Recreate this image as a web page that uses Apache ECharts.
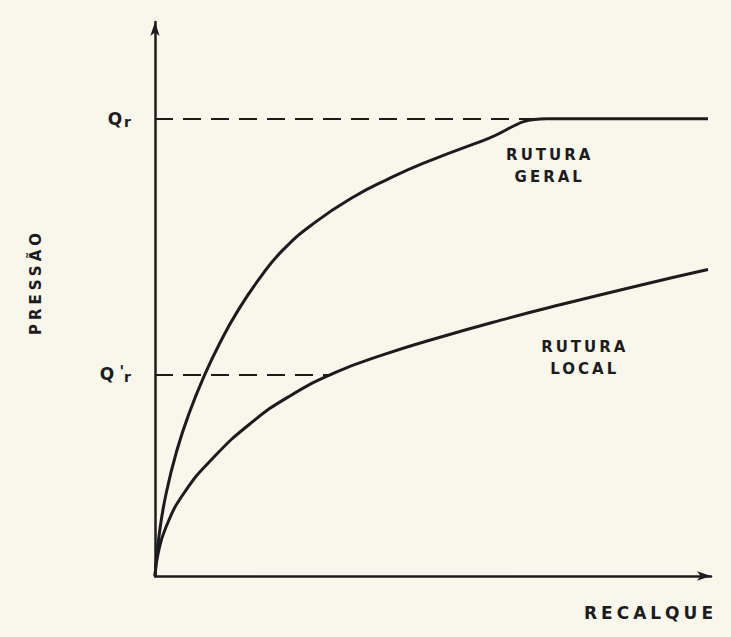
<!DOCTYPE html>
<html>
<head>
<meta charset="utf-8">
<script src="https://cdn.jsdelivr.net/npm/echarts@6/dist/echarts.min.js"></script>
<style>
  html, body { margin: 0; padding: 0; background: #f9f6ec; }
  #chart { width: 731px; height: 637px; }
</style>
</head>
<body>
<div id="chart"></div>
<script>
// curva de rutura geral (recalque, pressao)
var geralX = [0, 0.72, 1.98, 3.96, 6.29, 8.99, 11.69, 14.75, 18.71, 23.02, 28.78, 35.61, 41.91, 48.20, 58.99, 70.50, 99.46];
var geralY = [0, 7.22, 14.80, 22.74, 29.78, 36.43, 42.11, 47.63, 53.58, 58.86, 63.83, 68.36, 71.64, 74.48, 78.59, 82.53, 82.53];
// curva de rutura local
var localX = [0, 0.54, 1.98, 5.22, 10.61, 17.27, 23.92, 32.37, 41.37, 51.26, 62.05, 72.84, 86.33, 99.46];
var localY = [0, 3.97, 8.84, 14.98, 21.48, 27.62, 32.29, 36.70, 40.04, 43.10, 46.14, 48.95, 52.27, 55.31];
// pressoes de rutura
var qr = 82.53, qrLocal = 36.40;
var qrEndX = 70.50, qrLocalEndX = 31.8;

var ink = '#1c1c1c';
var font = 'DejaVu Sans';

function pairs(xs, ys) {
    return xs.map(function (x, i) { return [x, ys[i]]; });
}

var myChart = echarts.init(document.getElementById('chart'), null, { renderer: 'svg' });

var option = {
    backgroundColor: '#f9f6ec',
    animation: false,
    grid: { left: 155, right: 20, top: 22, bottom: 61 },
    xAxis: {
        type: 'value',
        min: 0,
        max: 100,
        name: 'RECALQUE',
        nameLocation: 'end',
        nameGap: 6,
        nameTextStyle: {
            color: ink, fontFamily: font, fontWeight: 'bold', fontSize: 17,
            align: 'right', verticalAlign: 'top', padding: [28, 0, 0, 0]
        },
        axisLine: {
            symbol: ['none', 'arrow'],
            symbolSize: [7, 14],
            lineStyle: { color: ink, width: 2.5 }
        },
        axisTick: { show: false },
        axisLabel: { show: false },
        splitLine: { show: false }
    },
    yAxis: {
        type: 'value',
        min: 0,
        max: 100,
        name: 'PRESSÃO',
        nameLocation: 'middle',
        nameRotate: 90,
        nameGap: 112,
        nameTextStyle: {
            color: ink, fontFamily: font, fontWeight: 'bold', fontSize: 15,
            padding: [0, 0, 0, 34]
        },
        axisLine: {
            symbol: ['none', 'arrow'],
            symbolSize: [7, 14],
            lineStyle: { color: ink, width: 2.5 }
        },
        axisTick: { show: false },
        splitLine: { show: false },
        axisLabel: {
            customValues: [qrLocal, qr],
            margin: 24,
            formatter: function (v) {
                return v === qr ? '{q|Q}{sub|r}' : '{q|Q}{ap|\'}{sub|r}';
            },
            rich: {
                q: { color: ink, fontFamily: font, fontWeight: 'bold', fontSize: 17, lineHeight: 20, verticalAlign: 'middle', padding: [0, 2, 0, 0] },
                sub: { color: ink, fontFamily: font, fontWeight: 'bold', fontSize: 14, lineHeight: 10, verticalAlign: 'bottom' },
                ap: { color: ink, fontFamily: font, fontWeight: 'bold', fontSize: 15, lineHeight: 6, verticalAlign: 'top', width: 3, padding: [0, 0, 0, 5] }
            }
        }
    },
    series: [{
        name: 'Rutura geral',
        type: 'line',
        data: pairs(geralX, geralY),
        smooth: 0.5,
        showSymbol: false,
        lineStyle: { color: ink, width: 3 },
        markLine: {
            silent: true,
            symbol: 'none',
            label: { show: false },
            lineStyle: { color: ink, width: 2, type: [18, 10] },
            data: [
                [{ coord: [0, qr] }, { coord: [qrEndX, qr] }]
            ]
        },
        markPoint: {
            symbol: 'circle',
            symbolSize: 0,
            label: {
                show: true, color: ink, fontFamily: font, fontWeight: 'bold',
                fontSize: 15, lineHeight: 22, align: 'center'
            },
            data: [{ coord: [71.0, 74.0], value: 'RUTURA\nGERAL' }]
        }
    }, {
        name: 'Rutura local',
        type: 'line',
        data: pairs(localX, localY),
        smooth: 0.5,
        showSymbol: false,
        lineStyle: { color: ink, width: 3 },
        markLine: {
            silent: true,
            symbol: 'none',
            label: { show: false },
            lineStyle: { color: ink, width: 2, type: [18, 10] },
            data: [
                [{ coord: [0, qrLocal] }, { coord: [qrLocalEndX, qrLocal] }]
            ]
        },
        markPoint: {
            symbol: 'circle',
            symbolSize: 0,
            label: {
                show: true, color: ink, fontFamily: font, fontWeight: 'bold',
                fontSize: 15, lineHeight: 22, align: 'center'
            },
            data: [{ coord: [77.3, 39.4], value: 'RUTURA\nLOCAL' }]
        }
    }]
};

myChart.setOption(option);

// espacamento das letras como no desenho original
function spaceLetters() {
    var texts = document.querySelectorAll('#chart text');
    for (var i = 0; i < texts.length; i++) {
        var t = texts[i].textContent;
        if (/RUTURA|GERAL|LOCAL/.test(t)) texts[i].style.letterSpacing = '3px';
        else if (/PRESS|RECALQUE/.test(t)) texts[i].style.letterSpacing = '4px';
    }
}
myChart.on('finished', spaceLetters);
spaceLetters();
</script>
</body>
</html>
